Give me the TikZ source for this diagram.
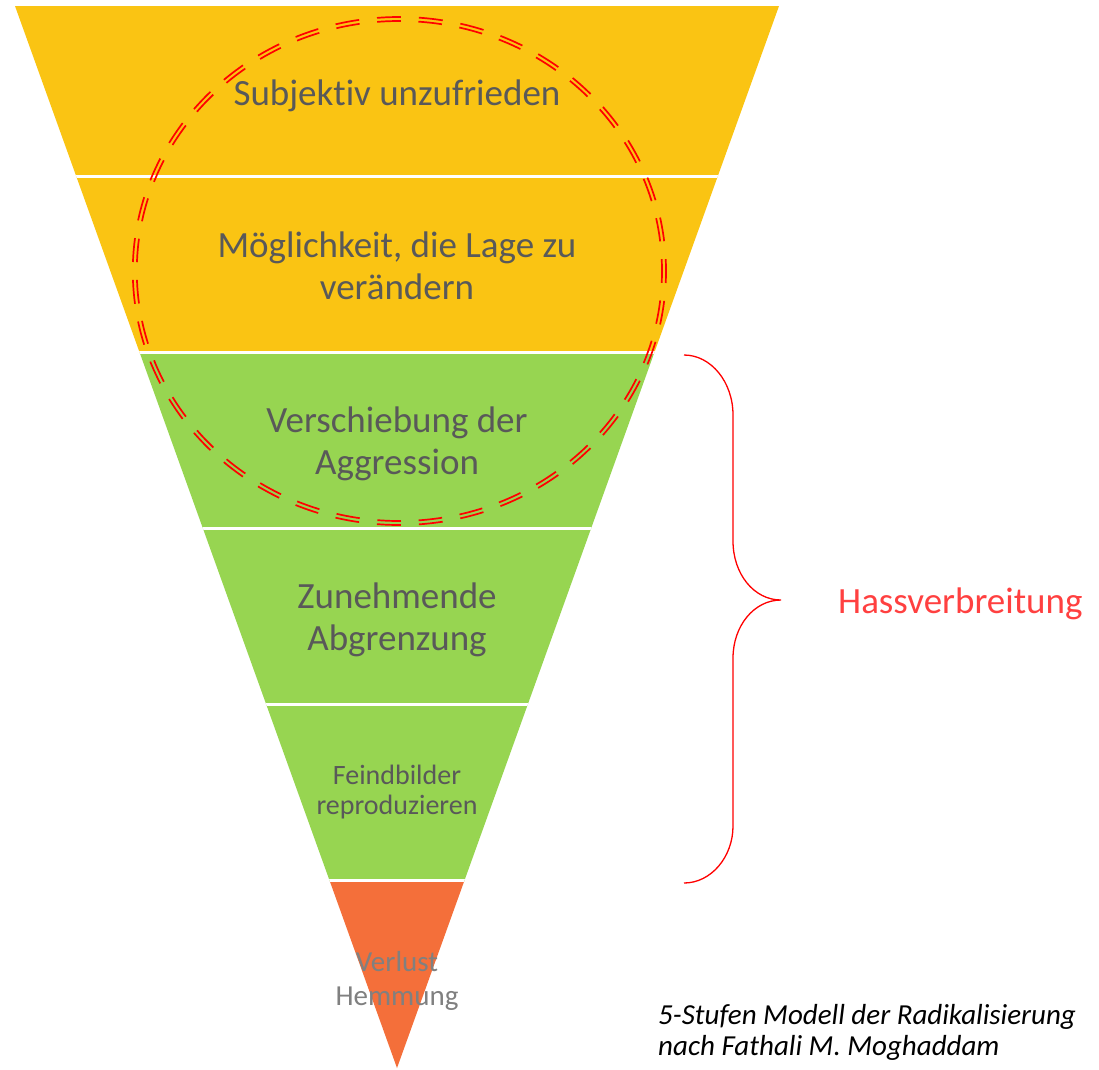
\documentclass[tikz,border=0pt]{standalone}
\usepackage{fontspec}
\setmainfont[Ligatures=NoCommon]{Carlito}
\definecolor{bandyellow}{HTML}{FAC413}
\definecolor{bandgreen}{HTML}{97D551}
\definecolor{bandorange}{HTML}{F46F3A}
\definecolor{labelgray}{HTML}{595959}
\definecolor{palegray}{HTML}{808080}
\definecolor{hassred}{HTML}{FF4040}
\begin{document}
\begin{tikzpicture}[x=1pt,y=-1pt,
  biglabel/.style={text=labelgray,align=center,inner sep=0pt,font=\fontsize{37}{42}\selectfont},
  smalllabel/.style={text=labelgray,align=center,inner sep=0pt,font=\fontsize{28}{30}\selectfont},
  palelabel/.style={text=palegray,align=center,inner sep=0pt,font=\fontsize{29}{34}\selectfont},
  ringline/.style={red,line width=1.7pt},
  bracestyle/.style={red,line width=1.3pt},
  caption/.style={text=black,inner sep=0pt,anchor=base west,font=\fontsize{29}{31}\selectfont\itshape}]
\useasboundingbox (0,0) rectangle (1099,1069);
\fill[white] (0,0) rectangle (1099,1069);
% funnel bands
\begin{scope}
\clip (15,6) -- (779,6) -- (397,1068) -- cycle;
\fill[bandyellow] (0,0) rectangle (1099,352.6);
\fill[bandgreen] (0,352.6) rectangle (1099,880.5);
\fill[bandorange] (0,880.5) rectangle (1099,1069);
\foreach \y in {176.7,352.6,528.6,704.5,880.5}
  \draw[white,line width=3pt] (0,\y) -- (1099,\y);
\end{scope}
% labels
\node[biglabel] (s1) at (397,96) {Subjektiv unzufrieden};
\node[biglabel] (s2) at (397,266) {Möglichkeit, die Lage zu\\verändern};
\node[biglabel] (s3) at (397,444) {Verschiebung der\\Aggression};
\node[biglabel] (s4) at (397,620) {Zunehmende\\Abgrenzung};
\node[smalllabel] (s5) at (397,792) {Feindbilder\\reproduzieren};
\node[palelabel] (s6) at (397,981) {Verlust\\Hemmung};
% double dashed ring
\draw[ringline,dash pattern=on 24pt off 17.95pt,dash phase=12pt] (399.4,271) ellipse [x radius=266.6, y radius=254];
\draw[ringline,dash pattern=on 23.6pt off 17.7pt,dash phase=11.8pt] (399.4,271) ellipse [x radius=262.6, y radius=250];
% brace
\coordinate (bt) at (684,355);
\coordinate (bm) at (781,600);
\coordinate (bb) at (684,883);
\draw[bracestyle] (bt) .. controls (711,355) and (733,382) .. (733,415)
  -- (733,541) .. controls (733,574) and (754,600) .. (bm)
  .. controls (754,600) and (733,626) .. (733,658)
  -- (733,826) .. controls (733,857) and (711,883) .. (bb);
\node[text=hassred,inner sep=0pt,anchor=base west,font=\fontsize{37}{42}\selectfont] (hass) at (838,613) {Hassverbreitung};
% caption
\node[caption] (c1) at (658,1024) {5-Stufen Modell der Radikalisierung};
\node[caption] (c2) at (658,1055) {nach Fathali M. Moghaddam};
\end{tikzpicture}
\end{document}
